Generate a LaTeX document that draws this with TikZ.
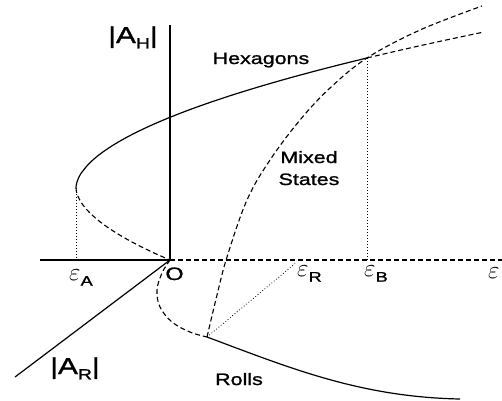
\documentclass[tikz,border=0pt]{standalone}
\usepackage{fontspec}
\setmainfont{Liberation Sans}[FakeStretch=1.3,FakeBold=1.2]
\begin{document}
\begin{tikzpicture}[x=1pt,y=-1pt,
  ax/.style={line width=1.2pt},
  sol/.style={line width=1.2pt},
  dsh/.style={line width=1.1pt, dash pattern=on 5pt off 3pt},
  dotl/.style={line width=0.8pt, dash pattern=on 0.8pt off 2.2pt},
  big/.style={font=\fontsize{23}{23}\selectfont, inner sep=0pt},
  txt/.style={font=\fontsize{16.5}{18}\selectfont, inner sep=0pt},
  eps/.style={font=\fontsize{27}{28}\selectfont, inner sep=0pt}]
\useasboundingbox (0,0) rectangle (502,400);
% key points
\coordinate (O) at (170,260);
\coordinate (T) at (76,188);
\coordinate (B) at (367,58);
\coordinate (R) at (207,337);
\coordinate (ER) at (297,262);
\coordinate (EA) at (76,260);
\coordinate (EB) at (367,260);
\coordinate (Vtop) at (170,25);
\coordinate (Hleft) at (40,260);
\coordinate (Hright) at (502,260);
\coordinate (ARend) at (15,377);
\coordinate (Rend) at (460,399);
% axes
\draw[ax] (Vtop) -- (O);
\draw[ax] (Hleft) -- (O);
\draw[dsh] (O) -- (Hright);
\draw[ax] (O) -- (ARend);
% hexagon branch
\draw[dsh] plot[domain=0.01:72, samples=40, variable=\u] ({76+94*(\u/72)^1.8},{188+\u});
\draw[sol] plot[domain=0.01:130, samples=60, variable=\u] ({76+291*(\u/130)^1.855},{188-\u});
\draw[dsh] plot[domain=130:156, samples=15, variable=\u] ({76+291*(\u/130)^1.855},{188-\u});
% mixed states
\draw[dsh] plot[smooth, tension=0.6] coordinates {(R) (217,295) (227,257) (247,200) (270,160) (300,120) (330,88) (B) (420,30) (482,6)};
% rolls
\draw[dsh] plot[smooth, tension=0.6] coordinates {(O) (162,273) (157,290) (160,307) (172,322) (190,332) (R)};
\draw[sol] (R) .. controls (290,368) and (360,397) .. (Rend);
% dotted projections
\draw[dotl] (T) -- (EA);
\draw[dotl] (B) -- (EB);
\draw[dotl] (R) -- (ER);
% labels
\node[big, anchor=base west] (lAH) at (108,43) {|A\raisebox{-0.45ex}{\fontsize{15}{15}\selectfont H}|};
\node[big, anchor=base west] (lAR) at (50,374) {|A\raisebox{-0.45ex}{\fontsize{15}{15}\selectfont R}|};
\node[txt, anchor=base] (lHex) at (261,64) {Hexagons};
\node[txt, anchor=base] (lMix) at (309,163) {Mixed};
\node[txt, anchor=base] (lSta) at (309,185) {States};
\node[txt, anchor=base] (lRol) at (239,385) {Rolls};
\node[txt, anchor=base, font=\fontsize{18}{18}\selectfont] (lO) at (174.5,280) {O};
\node[eps, anchor=base west] (lEA) at (69,280) {$\varepsilon$\raisebox{-0.4ex}{\fontsize{14}{14}\selectfont A}};
\node[eps, anchor=base west] (lER) at (297,276) {$\varepsilon$\raisebox{-0.4ex}{\fontsize{14}{14}\selectfont R}};
\node[eps, anchor=base west] (lEB) at (364,276) {$\varepsilon$\raisebox{-0.4ex}{\fontsize{14}{14}\selectfont B}};
\node[eps, anchor=base west] (lE) at (488,278) {$\varepsilon$};
\end{tikzpicture}
\end{document}
